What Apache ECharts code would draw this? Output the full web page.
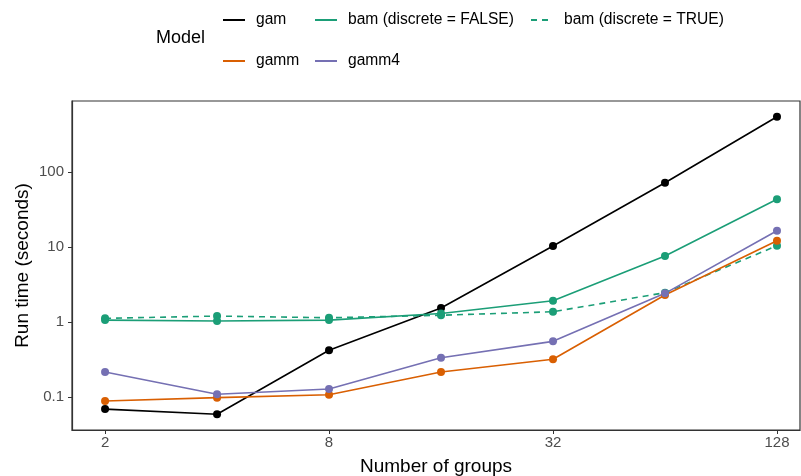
<!DOCTYPE html>
<html><head><meta charset="utf-8">
<script src="https://cdn.jsdelivr.net/npm/echarts@6/dist/echarts.min.js"></script>
<style>html,body{margin:0;padding:0;background:#fff}#c{width:801px;height:476px}</style>
</head><body><div id="c"></div>
<script>
const groups = [2, 4, 8, 16, 32, 64, 128];
const gam = [0.069, 0.059, 0.42, 1.54, 10.3, 72, 546];
const bamFalse = [1.06, 1.03, 1.06, 1.3, 1.92, 7.6, 43.3];
const bamTrue = [1.12, 1.2, 1.14, 1.23, 1.37, 2.46, 10.4];
const gamm = [0.0885, 0.098, 0.107, 0.215, 0.318, 2.29, 12.1];
const gamm4 = [0.215, 0.109, 0.128, 0.334, 0.552, 2.41, 16.5];
const xTicks = [2, 8, 32, 128];
const yTicks = [0.1, 1, 10, 100];
const names = ['gam', 'gamm', 'bam (discrete = FALSE)', 'gamm4', 'bam (discrete = TRUE)'];

const font = 'Liberation Sans, Arial, sans-serif';
function pairs(v){ return groups.map((g,i)=>[g, v[i]]); }
function mk(name, vals, color, dashed){
  return {
    name, type:'line', data: pairs(vals), symbol:'circle', symbolSize:8,
    itemStyle:{color}, lineStyle:{color, width:1.6, type: dashed ? [6,5] : 'solid'},
    emphasis:{disabled:true}, animation:false
  };
}
function leg(name, left, top){
  return {
    data:[name], left, top, padding:0, itemWidth:22, itemHeight:14, selectedMode:false,
    itemStyle:{color:'rgba(0,0,0,0)', borderWidth:0},
    textStyle:{fontFamily:font, fontSize:15.6, color:'#000', padding:[0,0,0,6]}
  };
}
const chart = echarts.init(document.getElementById('c'));
chart.setOption({
  backgroundColor:'#fff',
  animation:false,
  title:{text:'Model', left:156, top:29, padding:0, textStyle:{fontFamily:font, fontSize:18, fontWeight:'normal', color:'#000'}},
  legend:[
    leg(names[0], 222, 12),
    leg(names[2], 314, 12),
    leg(names[4], 530, 12),
    leg(names[1], 222, 53),
    leg(names[3], 314, 53)
  ],
  grid:{left:72, right:1, top:101, bottom:46, outerBoundsMode:'none', containLabel:false, show:true, borderColor:'#333', borderWidth:1.2, backgroundColor:'#fff'},
  xAxis:{
    type:'log', logBase:2, min:1.63, max:147.6,
    name:'Number of groups', nameLocation:'middle', nameGap:27, nameMoveOverlap:false,
    nameTextStyle:{fontFamily:font, fontSize:19, color:'#000'},
    axisLine:{show:true, lineStyle:{color:'#333', width:1.2}},
    axisTick:{show:true, length:4, lineStyle:{color:'#333'}, customValues: xTicks},
    axisLabel:{fontFamily:font, fontSize:15, color:'#4d4d4d', margin:5, customValues: xTicks, formatter: v=>String(v)},
    splitLine:{show:false}
  },
  yAxis:{
    type:'log', logBase:10, min:0.0363, max:885,
    name:'Run time (seconds)', nameLocation:'middle', nameGap:40, nameRotate:90, nameMoveOverlap:false,
    nameTextStyle:{fontFamily:font, fontSize:19, color:'#000'},
    axisLine:{show:true, lineStyle:{color:'#333', width:1.2}},
    axisTick:{show:true, length:4, lineStyle:{color:'#333'}, customValues: yTicks},
    axisLabel:{fontFamily:font, fontSize:15, color:'#4d4d4d', margin:8, customValues: yTicks, formatter: v=>String(v)},
    splitLine:{show:false}
  },
  series:[
    mk('gam', gam, '#000000', false),
    mk('bam (discrete = TRUE)', bamTrue, '#1B9E77', true),
    mk('bam (discrete = FALSE)', bamFalse, '#1B9E77', false),
    mk('gamm', gamm, '#D95F02', false),
    mk('gamm4', gamm4, '#7570B3', false)
  ]
});
</script></body></html>
